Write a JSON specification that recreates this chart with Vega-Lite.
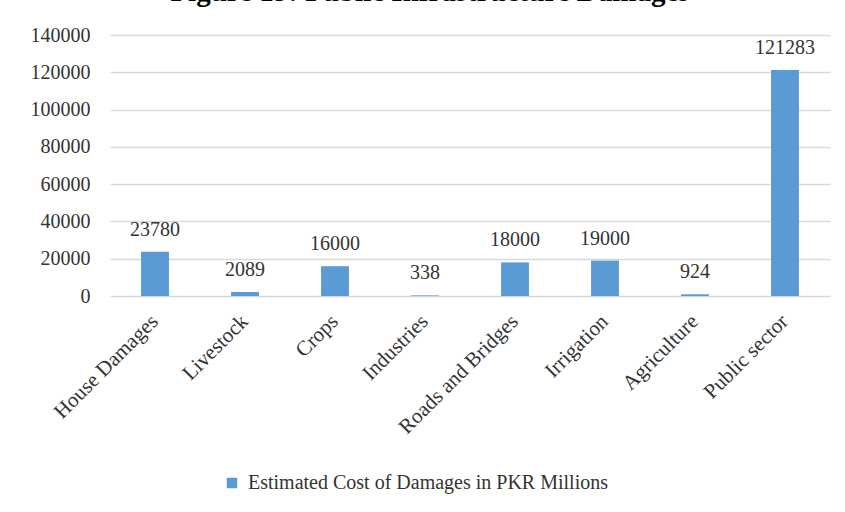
{
  "$schema": "https://vega.github.io/schema/vega-lite/v6.json",
  "autosize": {"type": "none"},
  "width": 720,
  "height": 261,
  "padding": {"left": 110, "top": 35, "right": 15, "bottom": 216},
  "background": "white",
  "title": {
    "text": "Figure 19: Public Infrastructure Damages",
    "font": "Liberation Serif",
    "fontSize": 29,
    "fontWeight": "bold",
    "color": "#000000",
    "anchor": "middle",
    "baseline": "alphabetic",
    "offset": 8,
    "dy": 13,
    "dx": -40
  },
  "data": {
    "values": [
      {"category": "House Damages", "cost": 23780, "series": "Estimated Cost of Damages in PKR Millions"},
      {"category": "Livestock", "cost": 2089, "series": "Estimated Cost of Damages in PKR Millions"},
      {"category": "Crops", "cost": 16000, "series": "Estimated Cost of Damages in PKR Millions"},
      {"category": "Industries", "cost": 338, "series": "Estimated Cost of Damages in PKR Millions"},
      {"category": "Roads and Bridges", "cost": 18000, "series": "Estimated Cost of Damages in PKR Millions"},
      {"category": "Irrigation", "cost": 19000, "series": "Estimated Cost of Damages in PKR Millions"},
      {"category": "Agriculture", "cost": 924, "series": "Estimated Cost of Damages in PKR Millions"},
      {"category": "Public sector", "cost": 121283, "series": "Estimated Cost of Damages in PKR Millions"}
    ]
  },
  "encoding": {
    "x": {
      "field": "category",
      "type": "nominal",
      "sort": null,
      "scale": {"paddingInner": 0.69, "paddingOuter": 0.345},
      "axis": {
        "title": null,
        "labelAngle": -45,
        "labelAlign": "right",
        "labelBaseline": "middle",
        "labelPadding": 22,
        "labelFont": "Liberation Serif",
        "labelFontSize": 21,
        "labelColor": "#333333",
        "ticks": false,
        "domain": false,
        "labelLimit": 300
      }
    },
    "y": {
      "field": "cost",
      "type": "quantitative",
      "scale": {"domain": [0, 140000], "nice": false},
      "axis": {
        "title": null,
        "values": [0, 20000, 40000, 60000, 80000, 100000, 120000, 140000],
        "format": "d",
        "labelFont": "Liberation Serif",
        "labelFontSize": 20,
        "labelColor": "#333333",
        "labelPadding": 20,
        "ticks": false,
        "domain": false,
        "grid": true,
        "gridColor": "#d9d9d9",
        "gridWidth": 1.5
      }
    }
  },
  "layer": [
    {
      "mark": {"type": "bar", "color": "#5B9BD5"},
      "encoding": {
        "color": {
          "field": "series",
          "type": "nominal",
          "scale": {"range": ["#5B9BD5"]},
          "legend": {
            "title": null,
            "orient": "none",
            "legendX": 112,
            "legendY": 438,
            "symbolType": "square",
            "symbolSize": 110,
            "symbolStrokeWidth": 0,
            "labelFont": "Liberation Serif",
            "labelFontSize": 20,
            "labelColor": "#333333",
            "labelLimit": 600,
            "labelOffset": 6
          }
        }
      }
    },
    {
      "mark": {
        "type": "text",
        "font": "Liberation Serif",
        "fontSize": 20,
        "color": "#333333",
        "baseline": "alphabetic",
        "dy": -16
      },
      "encoding": {
        "text": {"field": "cost", "type": "quantitative", "format": "d"}
      }
    }
  ],
  "config": {
    "view": {"stroke": null}
  }
}
